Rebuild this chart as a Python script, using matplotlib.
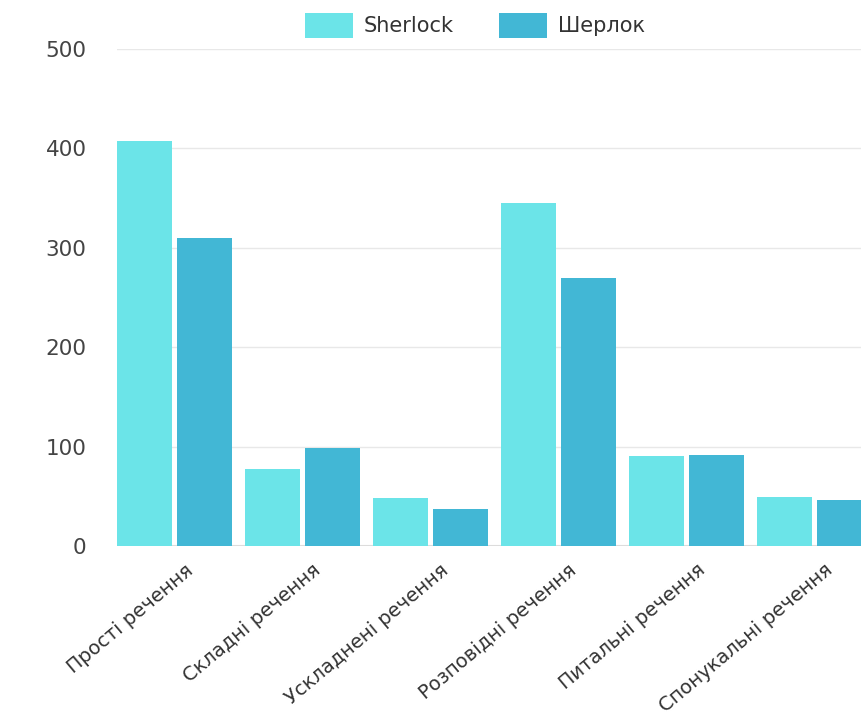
import matplotlib
matplotlib.use("Agg")
import matplotlib.pyplot as plt
import matplotlib.transforms as mtransforms
import numpy as np

categories = ["Прості речення", "Складні речення", "Ускладнені речення",
              "Розповідні речення", "Питальні речення", "Спонукальні речення"]
sherlock_en = [407, 77, 48, 345, 91, 49]
sherlock_ua = [310, 99, 37, 270, 92, 46]
series_names = ["Sherlock", "Шерлок"]
y_ticks = [0, 100, 200, 300, 400, 500]

c1 = "#6be4e8"
c2 = "#42b7d5"

W, H = 862, 715
fig = plt.figure(figsize=(W / 100, H / 100), dpi=100)
left = 117 / W
bottom = (H - 546) / H
top = (H - 49) / H
ax = fig.add_axes([left, bottom, 1 - left, top - bottom])

x = np.arange(len(categories))
bw = 0.43
off = 0.234
ax.bar(x - off, sherlock_en, bw, color=c1, label=series_names[0], zorder=3)
ax.bar(x + off, sherlock_ua, bw, color=c2, label=series_names[1], zorder=3)

ax.set_ylim(0, 500)
ax.set_xlim(-0.449, -0.449 + (W - 117) / 128)
ax.set_yticks(y_ticks)
ax.set_yticklabels([str(v) for v in y_ticks])
ax.grid(axis="y", color="#e8e8e8", linewidth=1.0, zorder=0)
ax.axhline(0, color="#dcdcdc", linewidth=1.5, zorder=2)
for s in ax.spines.values():
    s.set_visible(False)
ax.tick_params(axis="both", length=0)
ax.tick_params(axis="y", pad=22, labelsize=15.5, labelcolor="#444444")

ax.set_xticks(x)
ax.set_xticklabels(categories, rotation=40, ha="right", va="center",
                   rotation_mode="anchor", fontsize=14, color="#333333")
shift = mtransforms.ScaledTranslation(16 / 100, -17 / 100, fig.dpi_scale_trans)
for lab in ax.get_xticklabels():
    lab.set_transform(lab.get_transform() + shift)

leg = fig.legend(loc="upper center", bbox_to_anchor=(0.551, 1.008), ncol=2,
                 frameon=False, fontsize=15, handlelength=2.3, handleheight=1.45,
                 columnspacing=2.2, handletextpad=0.5, labelcolor="#333333")

fig.savefig("out.png", dpi=100)
